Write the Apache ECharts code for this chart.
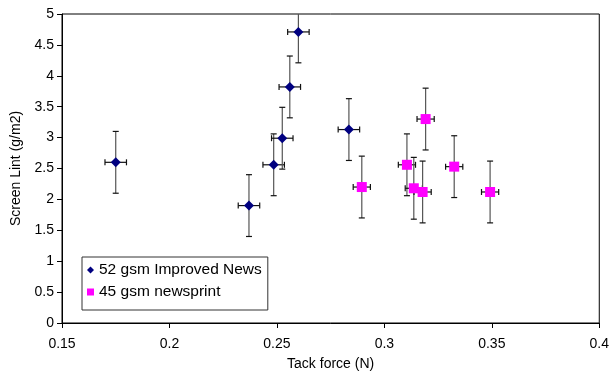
<!DOCTYPE html>
<html>
<head>
<meta charset="utf-8">
<script src="https://cdn.jsdelivr.net/npm/echarts@6/dist/echarts.min.js"></script>
<style>
html,body{margin:0;padding:0;background:#fff;}
#chart{width:612px;height:379px;}
</style>
</head>
<body>
<div id="chart"></div>
<script>
// 52 gsm Improved News
var newsX = [0.175, 0.237, 0.2485, 0.2525, 0.256, 0.260, 0.2835];
var newsY = [2.60, 1.90, 2.56, 2.99, 3.82, 4.71, 3.13];
var newsErrX = 0.005;
var newsErrY = 0.5;
// 45 gsm newsprint
var printX = [0.2895, 0.3105, 0.3137, 0.3178, 0.3192, 0.3325, 0.3492];
var printY = [2.20, 2.56, 2.18, 2.12, 3.30, 2.53, 2.12];
var printErrX = 0.004;
var printErrY = 0.5;

function pts(xs, ys) {
	var arr = [];
	for (var i = 0; i < xs.length; i++) {
		arr.push([xs[i], ys[i]]);
	}
	return arr;
}
function errs(xs, ys, ex, ey) {
	var arr = [];
	for (var i = 0; i < xs.length; i++) {
		arr.push([xs[i], ys[i], ex, ey]);
	}
	return arr;
}

// error bars, both directions, with caps
function renderErr(params, api) {
	var x = api.value(0), y = api.value(1), ex = api.value(2), ey = api.value(3);
	var top = api.coord([x, y + ey]);
	var bot = api.coord([x, y - ey]);
	var lft = api.coord([x - ex, y]);
	var rgt = api.coord([x + ex, y]);
	var cap = 3;
	var sv = { stroke: '#555', lineWidth: 1.2 };
	var sh = { stroke: '#111', lineWidth: 1.2 };
	return {
		type: 'group',
		children: [
			{ type: 'line', shape: { x1: top[0], y1: top[1], x2: bot[0], y2: bot[1] }, style: sv },
			{ type: 'line', shape: { x1: top[0] - cap, y1: top[1], x2: top[0] + cap, y2: top[1] }, style: sh },
			{ type: 'line', shape: { x1: bot[0] - cap, y1: bot[1], x2: bot[0] + cap, y2: bot[1] }, style: sh },
			{ type: 'line', shape: { x1: lft[0], y1: lft[1], x2: rgt[0], y2: rgt[1] }, style: sh },
			{ type: 'line', shape: { x1: lft[0], y1: lft[1] - cap, x2: lft[0], y2: lft[1] + cap }, style: sh },
			{ type: 'line', shape: { x1: rgt[0], y1: rgt[1] - cap, x2: rgt[0], y2: rgt[1] + cap }, style: sh }
		]
	};
}

var myChart = echarts.init(document.getElementById('chart'));
var font = 'Liberation Sans, Arial, sans-serif';
var option = {
	animation: false,
	textStyle: { fontFamily: font },
	grid: {
		left: 62, right: 11, top: 14, bottom: 56,
		show: true, borderColor: '#000', borderWidth: 1
	},
	legend: {
		left: 82, top: 257,
		orient: 'vertical',
		itemWidth: 7, itemHeight: 7, itemGap: 6,
		padding: [5, 6, 10, 5],
		borderColor: '#333', borderWidth: 1,
		textStyle: { fontFamily: font, fontSize: 15.5, color: '#000' },
		data: ['52 gsm Improved News', '45 gsm newsprint']
	},
	xAxis: {
		type: 'value',
		min: 0.15, max: 0.4, interval: 0.05,
		name: 'Tack force (N)',
		nameLocation: 'middle', nameGap: 34,
		nameTextStyle: { fontFamily: font, fontSize: 14, color: '#000' },
		axisLine: { lineStyle: { color: '#000' } },
		axisTick: { show: true, length: 5, lineStyle: { color: '#000' } },
		axisLabel: {
			fontSize: 14, color: '#000', margin: 14,
			formatter: function (v) { return String(+v.toFixed(2)); }
		},
		splitLine: { show: false }
	},
	yAxis: {
		type: 'value',
		min: 0, max: 5, interval: 0.5,
		name: 'Screen Lint (g/m2)',
		nameLocation: 'middle', nameGap: 37,
		nameTextStyle: { fontFamily: font, fontSize: 14, color: '#000' },
		axisLine: { show: true, lineStyle: { color: '#000' } },
		axisTick: { show: true, length: 5, lineStyle: { color: '#000' } },
		axisLabel: { fontSize: 14, color: '#000', margin: 8 },
		splitLine: { show: false }
	},
	series: [
		{
			type: 'custom',
			renderItem: renderErr,
			clip: true,
			data: errs(newsX, newsY, newsErrX, newsErrY),
			z: 1,
			silent: true
		},
		{
			type: 'custom',
			renderItem: renderErr,
			clip: true,
			data: errs(printX, printY, printErrX, printErrY),
			z: 1,
			silent: true
		},
		{
			name: '52 gsm Improved News',
			type: 'scatter',
			symbol: 'diamond',
			symbolSize: 10,
			itemStyle: { color: '#000080', opacity: 1 },
			data: pts(newsX, newsY),
			z: 3
		},
		{
			name: '45 gsm newsprint',
			type: 'scatter',
			symbol: 'rect',
			symbolSize: 10,
			itemStyle: { color: '#FF00FF', opacity: 1 },
			data: pts(printX, printY),
			z: 3
		}
	]
};
myChart.setOption(option);
</script>
</body>
</html>
